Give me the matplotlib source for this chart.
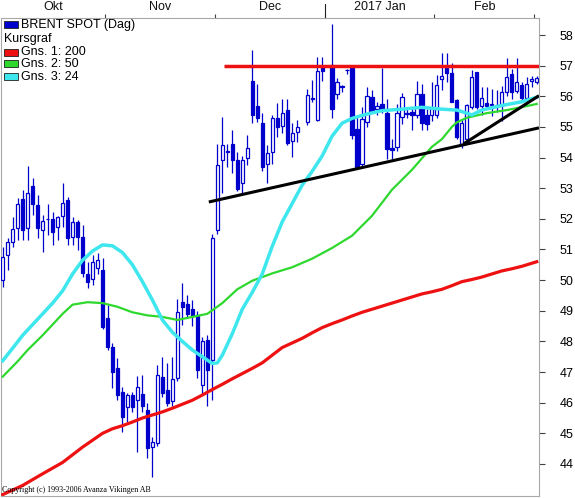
import numpy as np
import matplotlib
matplotlib.use("Agg")
import matplotlib.pyplot as plt
from matplotlib.patches import Rectangle
from matplotlib.lines import Line2D

nan = np.nan
# ---- candle data (one trading day per slot, NaN = no trading) ----
opens = [50.00, 50.81, 51.25, 51.69, 52.64, 51.69, 53.07, 52.45, 51.64, 51.99,
         51.99, 51.72, 52.10, 52.61, 51.40, 51.91, 51.40, 50.20, 50.03, 50.39,
         50.33, 48.75, 47.83, 47.12, 46.36, 45.87, 46.25, 46.09, 46.28, 45.76,
         44.54, 44.69, 46.83, 46.41, 46.06, 46.80, 49.28, 49.22, 49.05, 48.86,
         46.58, 48.05, 47.39, 51.64, 53.92, 54.19, 54.44, 53.92, 53.16, 53.98,
         56.50, 55.68, 55.12, 53.79, 54.17, 55.28, 55.03, 55.55, 54.55, 54.83,
         nan, 55.17, 55.96, 55.22, 56.97, nan, 57.02, 56.08, 56.30, 56.85,
         56.91, 54.92, 53.79, 55.17, 55.97, 55.58, 55.75, 55.46, 54.30, 54.33,
         55.31, 55.42, 55.50, 55.39, 56.07, 55.39, 55.39, 55.39, 56.55, 56.91,
         56.75, 55.88, 54.44, 54.60, 55.66, 56.80, 55.69, 55.77, 55.72, 55.70,
         55.72, 56.13, 56.72, 56.17, 56.37, 55.93, 56.50, 56.45]
highs = [51.09, 51.37, 52.07, 52.67, 52.94, 53.72, 53.32, 52.78, 52.13, 52.50,
         52.23, 52.10, 53.16, 52.72, 52.07, 51.96, 51.80, 50.60, 50.82, 50.90,
         50.71, 49.19, 47.94, 47.45, 46.52, 46.31, 46.36, 46.87, 46.90, 46.00,
         44.89, 47.23, 47.50, 47.30, 47.50, 49.40, 49.92, 49.51, 49.35, 49.00,
         48.15, 48.20, 51.50, 54.45, 55.33, 54.44, 54.90, 54.19, 54.05, 54.75,
         57.51, 56.40, 55.45, 54.41, 55.40, 55.77, 55.90, 55.90, 55.12, 55.22,
         nan, 56.23, 56.53, 57.29, 57.29, nan, 58.36, 56.60, 56.37, 56.90,
         56.98, 55.40, 55.65, 56.30, 56.20, 55.80, 56.91, 55.90, 54.60, 55.75,
         56.10, 55.60, 55.65, 56.50, 56.40, 55.60, 56.45, 56.70, 57.40, 57.40,
         57.08, 55.90, 55.22, 55.75, 56.85, 56.80, 56.31, 56.30, 56.24, 56.20,
         56.35, 57.26, 56.90, 57.26, 56.45, 56.64, 56.65, 56.65]
lows = [49.79, 50.33, 51.09, 51.31, 51.31, 51.31, 52.12, 51.36, 50.93, 51.47,
        51.15, 51.31, 51.74, 51.15, 51.15, 50.98, 50.10, 49.73, 49.84, 50.20,
        48.40, 47.72, 46.47, 46.09, 45.05, 45.38, 45.71, 44.40, 45.71, 44.20,
        43.58, 44.60, 46.20, 45.90, 45.90, 46.70, 48.54, 48.80, 48.50, 46.80,
        46.30, 45.90, 46.10, 51.50, 52.83, 53.70, 53.49, 52.90, 52.83, 53.75,
        55.12, 55.17, 53.55, 53.16, 53.80, 54.68, 54.80, 54.40, 54.03, 54.50,
        nan, 55.05, 55.80, 55.20, 56.50, nan, 55.28, 55.90, 56.15, 56.73,
        54.60, 53.62, 53.70, 55.00, 55.45, 55.40, 55.45, 53.95, 53.90, 54.20,
        55.10, 55.30, 54.90, 55.30, 54.90, 54.90, 55.20, 55.30, 56.20, 56.48,
        55.80, 54.60, 54.30, 54.50, 55.60, 55.60, 55.40, 55.60, 55.35, 55.50,
        55.20, 56.00, 55.90, 56.10, 55.85, 55.80, 56.30, 56.40]
closes = [50.76, 51.25, 51.66, 52.50, 51.64, 52.85, 52.50, 51.69, 51.93, 52.01,
          51.58, 52.07, 52.53, 51.36, 51.91, 51.40, 50.22, 49.93, 50.60, 50.66,
          48.48, 47.83, 47.01, 46.25, 45.54, 46.25, 45.87, 46.50, 45.89, 44.51,
          44.71, 46.92, 46.31, 45.98, 46.77, 48.97, 49.11, 48.89, 48.83, 47.07,
          48.00, 47.07, 51.36, 53.76, 54.41, 54.22, 53.92, 52.96, 53.92, 54.30,
          55.39, 55.28, 53.68, 54.14, 55.28, 54.99, 55.46, 54.48, 54.81, 55.01,
          nan, 56.04, 55.90, 56.83, 56.83, nan, 55.60, 56.48, 56.32, 56.87,
          54.74, 53.70, 55.25, 56.01, 55.53, 55.68, 55.55, 54.27, 54.25, 55.44,
          55.99, 55.44, 55.40, 56.07, 55.12, 55.09, 55.63, 56.37, 56.66, 56.77,
          55.82, 54.66, 55.14, 55.70, 56.62, 55.66, 55.95, 55.69, 55.74, 55.73,
          56.13, 56.64, 56.13, 56.45, 55.95, 56.39, 56.56, 56.60]

# ---- moving averages (slot index, value) ----
ma200_idx = [0, 4, 8, 12, 16, 20, 22, 24, 26, 28, 30, 32, 34, 36, 38, 40, 42,
             44, 46, 48, 50, 52, 54, 56, 58, 60, 62, 64, 66, 68, 70, 72, 74, 76,
             78, 80, 82, 84, 86, 88, 90, 92, 94, 96, 98, 100, 102, 104, 106, 107]
ma200_val = [43.00, 43.30, 43.68, 44.05, 44.55, 45.00, 45.15, 45.25, 45.37, 45.50,
             45.60, 45.70, 45.82, 45.95, 46.08, 46.25, 46.43, 46.60, 46.78, 46.95,
             47.12, 47.30, 47.55, 47.80, 47.95, 48.10, 48.28, 48.45, 48.58, 48.70,
             48.83, 48.95, 49.05, 49.15, 49.25, 49.35, 49.45, 49.55, 49.62, 49.70,
             49.82, 49.95, 50.02, 50.10, 50.20, 50.30, 50.37, 50.45, 50.55, 50.60]
ma50_idx = [0, 3, 5, 8, 10, 12, 14, 17, 20, 23, 26, 29, 32, 35, 38, 41, 44, 47,
            50, 54, 58, 62, 66, 70, 74, 78, 82, 86, 88, 90, 91, 93, 97, 101, 105, 107]
ma50_val = [46.85, 47.35, 47.72, 48.20, 48.55, 48.90, 49.20, 49.28, 49.25, 49.13,
            48.95, 48.85, 48.80, 48.70, 48.80, 48.90, 49.25, 49.70, 49.98, 50.22,
            50.42, 50.70, 51.05, 51.45, 52.10, 52.95, 53.60, 54.35, 54.60, 55.00,
            55.15, 55.30, 55.45, 55.55, 55.68, 55.75]
ma24_idx = [0, 2, 4, 6, 8, 10, 12, 14, 16, 18, 20, 22, 24, 26, 28, 30, 32, 34,
            36, 38, 40, 42, 43, 44, 46, 48, 50, 52, 54, 56, 58, 60, 62, 64, 66,
            68, 70, 73, 76, 80, 84, 88, 91, 93, 94, 96, 100, 104, 107]
ma24_val = [47.37, 47.78, 48.20, 48.55, 48.90, 49.25, 49.65, 50.20, 50.65, 50.95,
            51.15, 51.12, 50.90, 50.50, 49.95, 49.35, 48.70, 48.30, 48.00, 47.72,
            47.50, 47.28, 47.30, 47.55, 48.25, 49.05, 49.60, 50.20, 51.10, 51.90,
            52.50, 53.10, 53.55, 54.05, 54.70, 55.12, 55.28, 55.42, 55.53, 55.58,
            55.64, 55.58, 55.55, 55.45, 55.39, 55.55, 55.70, 55.82, 55.97]

# ---- drawn annotations (slot index, price) ----
resist_x = [44.3, 107.46]
resist_y = [57.0, 57.0]
trend1_x = [41.3, 107.46]
trend1_y = [52.55, 54.97]
trend2_x = [92.3, 107.46]
trend2_y = [54.44, 56.02]

month_labels = ["Okt", "Nov", "Dec", "2017 Jan", "Feb"]
month_bounds = [-0.34, 20.5, 42.5, 64.5, 86.5, 106.5]
price_ticks = list(range(44, 59))

W, H = 575, 498
fig = plt.figure(figsize=(W / 100, H / 100), dpi=100)
fig.patch.set_facecolor("white")
ax = fig.add_axes([1 / W, 2 / H, 538 / W, 478 / H])
ax.set_xlim(-0.34, 107.46)
ax.set_ylim(42.955, 58.555)

FONT = ["Liberation Sans Narrow", "Liberation Sans", "DejaVu Sans"]
BLUE = "#0000cc"

# candles
for k in range(len(opens)):
    o, h, l, c = opens[k], highs[k], lows[k], closes[k]
    if np.isnan(o):
        continue
    ax.plot([k, k], [l, h], color=BLUE, lw=0.9, zorder=2, solid_capstyle="butt")
    bottom = min(o, c)
    height = abs(c - o)
    face = BLUE if c < o else "white"
    ax.add_patch(Rectangle((k - 0.32, bottom), 0.64, height, facecolor=face,
                           edgecolor=BLUE, lw=0.9, zorder=3))

# moving averages
ax.plot(ma200_idx, ma200_val, color="#ee1111", lw=2.3, zorder=4)
ax.plot(ma50_idx, ma50_val, color="#2ed82e", lw=1.6, zorder=4)
ax.plot(ma24_idx, ma24_val, color="#3ee6ee", lw=2.5, zorder=4)

# drawn lines
ax.plot(resist_x, resist_y, color="#ee1111", lw=2.5, zorder=5, solid_capstyle="butt")
ax.plot(trend1_x, trend1_y, color="black", lw=2.2, zorder=5, solid_capstyle="butt")
ax.plot(trend2_x, trend2_y, color="black", lw=2.2, zorder=5, solid_capstyle="butt")

# spines
for s in ax.spines.values():
    s.set_color("#a8a8a8")
    s.set_linewidth(0.8)

# right price axis
ax.yaxis.tick_right()
ax.set_yticks(price_ticks)
ax.set_yticklabels([str(v) for v in price_ticks], fontsize=9, family=FONT)
ax.tick_params(axis="y", direction="out", length=4, width=0.8, color="#404040",
               pad=11, right=True, left=False)

# top month axis
ax.xaxis.tick_top()
ax.set_xticks(month_bounds[1:])
ax.set_xticklabels([])
ax.tick_params(axis="x", direction="out", length=3, width=0.8, color="#404040",
               top=True, bottom=False)
xtr = ax.get_xaxis_transform()
for i, lab in enumerate(month_labels):
    xc = 0.5 * (month_bounds[i] + month_bounds[i + 1])
    ax.text(xc, 1 + 11 / 478, lab, transform=xtr, ha="center", va="center",
            fontsize=9, family=FONT, color="#101010", clip_on=False)
ax.add_line(Line2D([64.5, 64.5], [1.0, 1 + 14 / 478], transform=xtr, color="#202020",
                   lw=0.8, clip_on=False))

# legend (figure pixel coordinates)
def fx(x):
    return x / W

def fy(y):
    return 1 - y / H

legend_rows = [("BRENT SPOT (Dag)", BLUE, 25), ("Kursgraf", None, 39),
               ("Gns. 1: 200", "#ee1111", 52), ("Gns. 2: 50", "#2ed82e", 64),
               ("Gns. 3: 24", "#3ee6ee", 77)]
for text, col, yc in legend_rows:
    if col is None:
        fig.text(fx(4), fy(yc), text, fontsize=9, family=FONT, va="center", ha="left")
    else:
        fig.add_artist(Rectangle((fx(4), fy(yc + 3.5)), 14 / W, 7 / H,
                                 transform=fig.transFigure, facecolor=col,
                                 edgecolor="#202020", lw=0.6))
        fig.text(fx(21), fy(yc), text, fontsize=9, family=FONT, va="center", ha="left")

fig.text(fx(2), fy(490), "Copyright (c) 1993-2006 Avanza Vikingen AB", fontsize=5.8,
         family=["Liberation Serif", "DejaVu Serif"], va="center", ha="left")

fig.savefig("out.png", dpi=100)
